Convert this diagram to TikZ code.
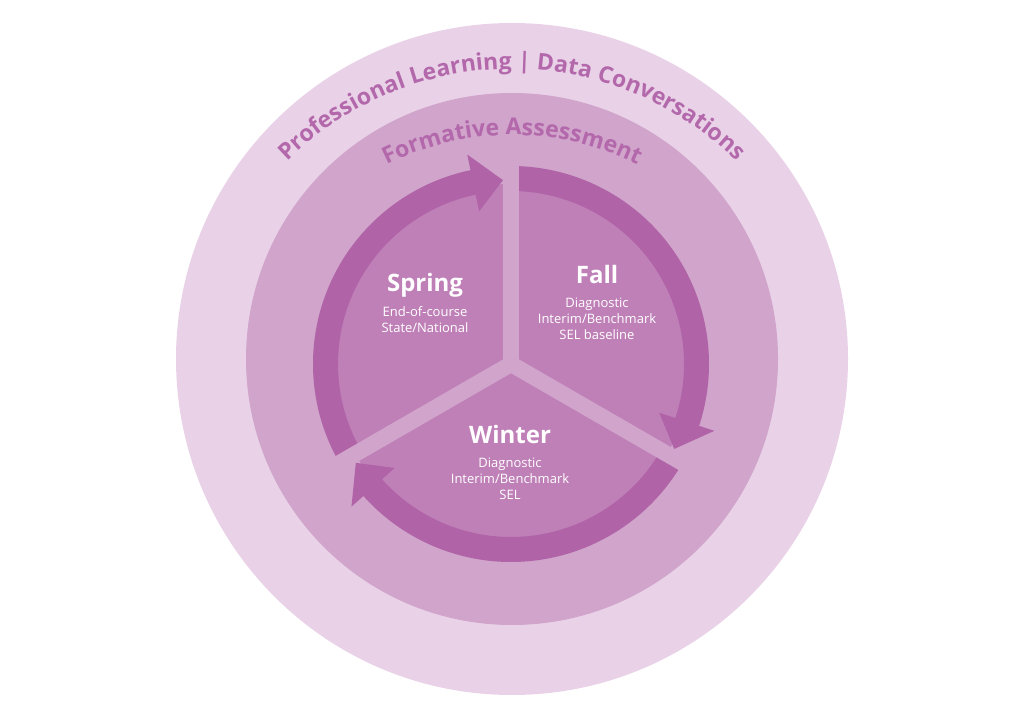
\documentclass[tikz,border=0pt]{standalone}
\usepackage{fontspec}
\setmainfont{Open Sans}
\usetikzlibrary{calc,positioning,decorations.text}
\definecolor{outerbg}{HTML}{E9D2E7}
\definecolor{midbg}{HTML}{D0A4CB}
\definecolor{sectbg}{HTML}{BF80B8}
\definecolor{ringc}{HTML}{B063A7}
\definecolor{labc}{HTML}{B368AB}
\begin{document}
\begin{tikzpicture}[x=1pt,y=1pt,line join=round,
	ring/.style={draw=ringc,line width=25pt},
	gapband/.style={draw=midbg,line width=16pt},
	season/.style={text=white,font=\fontsize{24}{24}\selectfont\bfseries,inner sep=0pt,anchor=base},
	tests/.style={text=white,font=\fontsize{13}{16}\selectfont,align=center,inner sep=0pt}]
	\def\rr{185.5}
	\def\rin{156}
	\def\rout{214}
	\useasboundingbox (0,0) rectangle (1024,720);
	\coordinate (O) at (512,361);
	\coordinate (C) at (511,356);
	\coordinate (P) at (512,332);
	\coordinate (F) at (512,306);
	\fill[outerbg] (O) circle (336); % Vẽ vòng ngoài
	\fill[midbg] (O) circle (266);
	\fill[sectbg] (C) circle (180);
	\foreach \a in {90,-30,-150} \draw[ring] ($(C)+(\a+120:\rr)$) arc (\a+120:\a+11:\rr); % Vẽ các cung
	\foreach \a in {90,-30,-150} \draw[gapband] (C) -- ($(C)+(\a:215)$); % Vẽ khe
	\foreach \a in {90,-30,-150} \fill[ringc] ($(C)+(\a+11.8:\rin)$) -- ($(C)+(\a+2.5:184)$) -- ($(C)+(\a+11.8:\rout)$) -- cycle; % Vẽ mũi tên
	\path[decorate,decoration={text along path,text format delimiters={[}{]},text={[\color{labc}\fontsize{23}{23}\selectfont\bfseries]Professional Learning | Data Conversations},text align=center}] ($(P)+(150:319)$) arc (150:30:319);
	\path[decorate,decoration={text along path,text format delimiters={[}{]},text={[\color{labc}\fontsize{23}{23}\selectfont\bfseries]Formative Assessment},text align=center}] ($(F)+(150:279)$) arc (150:30:279);
	\node[season] (spring) at (425,428) {Spring};
	\node[tests,below=14pt of spring.base] (springtests) {End-of-course\\State/National};
	\node[season] (fall) at (597,436) {Fall};
	\node[tests,below=14pt of fall.base] (falltests) {Diagnostic\\Interim/Benchmark\\SEL baseline};
	\node[season] (winter) at (510,276) {Winter};
	\node[tests,below=14pt of winter.base] (wintertests) {Diagnostic\\Interim/Benchmark\\SEL};
\end{tikzpicture}
\end{document}
